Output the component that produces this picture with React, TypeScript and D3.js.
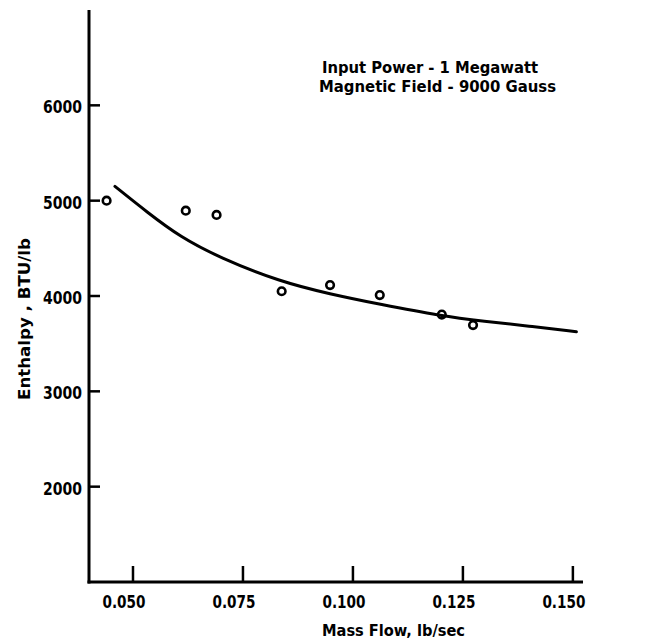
import React, { useRef, useEffect } from 'react';
import * as d3 from 'd3';

// measured points (open circles)
const pointFlow = [0.044, 0.062, 0.069, 0.0838, 0.0948, 0.1061, 0.1202, 0.1273];
const pointEnthalpy = [5000, 4895, 4850, 4050, 4115, 4010, 3805, 3695];

// faired curve through the data
const curveFlow = [0.0459, 0.0532, 0.0607, 0.0698, 0.0834, 0.0948, 0.1061, 0.1202, 0.1298, 0.1399, 0.1508];
const curveEnthalpy = [5150, 4880, 4620, 4400, 4150, 4020, 3913, 3789, 3735, 3685, 3625];

const xTicks = [0.05, 0.075, 0.1, 0.125, 0.15];
const xTickLabels = ['0.050', '0.075', '0.100', '0.125', '0.150'];
const yTicks = [2000, 3000, 4000, 5000, 6000];
const yTickLabels = ['2000', '3000', '4000', '5000', '6000'];

const notes = ['Input Power - 1 Megawatt', 'Magnetic Field - 9000 Gauss'];

export default function App() {
    const svgRef = useRef<SVGSVGElement>(null);

    useEffect(() => {
        var width = 649,
            height = 643;
        var font = "'DejaVu Sans Condensed', 'Liberation Sans Narrow', 'DejaVu Sans', sans-serif";

        var x = d3.scaleLinear().domain([0.04, 0.1523]).range([89, 583]);
        var y = d3.scaleLinear().domain([1000, 7000]).range([582, 10]);

        var svg = d3.select(svgRef.current)
            .attr('width', width)
            .attr('height', height);
        svg.selectAll('*').remove();

        svg.append('rect').attr('width', width).attr('height', height).attr('fill', '#fff');

        // axes lines
        svg.append('line')
            .attr('x1', x.range()[0]).attr('x2', x.range()[0])
            .attr('y1', y.range()[1]).attr('y2', y.range()[0] + 1.5)
            .attr('stroke', '#000').attr('stroke-width', 3);
        svg.append('line')
            .attr('x1', x.range()[0] - 1.5).attr('x2', x.range()[1])
            .attr('y1', y.range()[0]).attr('y2', y.range()[0])
            .attr('stroke', '#000').attr('stroke-width', 3);

        // y ticks (point inward)
        var yg = svg.append('g');
        yg.selectAll('line')
            .data(yTicks)
            .enter().append('line')
            .attr('x1', x.range()[0]).attr('x2', x.range()[0] + 11)
            .attr('y1', d => y(d)).attr('y2', d => y(d))
            .attr('stroke', '#000').attr('stroke-width', 2.5);
        yg.selectAll('text')
            .data(yTicks)
            .enter().append('text')
            .attr('x', 82)
            .attr('y', d => y(d) + 8)
            .attr('text-anchor', 'end')
            .attr('font-family', font)
            .attr('font-weight', 'bold')
            .attr('font-size', 17)
            .attr('textLength', 39)
            .attr('lengthAdjust', 'spacingAndGlyphs')
            .text((d, i) => yTickLabels[i]);

        // x ticks (point up)
        var xg = svg.append('g');
        xg.selectAll('line')
            .data(xTicks)
            .enter().append('line')
            .attr('x1', d => x(d)).attr('x2', d => x(d))
            .attr('y1', y.range()[0]).attr('y2', y.range()[0] - 16)
            .attr('stroke', '#000').attr('stroke-width', 2.5);
        xg.selectAll('text')
            .data(xTicks)
            .enter().append('text')
            .attr('x', d => x(d) - 9)
            .attr('y', 608)
            .attr('text-anchor', 'middle')
            .attr('font-family', font)
            .attr('font-weight', 'bold')
            .attr('font-size', 17)
            .attr('textLength', 43)
            .attr('lengthAdjust', 'spacingAndGlyphs')
            .text((d, i) => xTickLabels[i]);

        // axis titles
        svg.append('text')
            .attr('x', 393.5).attr('y', 636)
            .attr('text-anchor', 'middle')
            .attr('font-family', font)
            .attr('font-weight', 'bold')
            .attr('font-size', 16)
            .attr('textLength', 143)
            .attr('lengthAdjust', 'spacingAndGlyphs')
            .text('Mass Flow, lb/sec');

        svg.append('text')
            .attr('transform', 'translate(30,319) rotate(-90)')
            .attr('text-anchor', 'middle')
            .attr('font-family', font)
            .attr('font-weight', 'bold')
            .attr('font-size', 16)
            .attr('textLength', 162)
            .attr('lengthAdjust', 'spacingAndGlyphs')
            .text('Enthalpy , BTU/lb');

        // annotation
        svg.append('text')
            .attr('x', 322).attr('y', 73)
            .attr('font-family', font)
            .attr('font-weight', 'bold')
            .attr('font-size', 16)
            .attr('textLength', 216)
            .attr('lengthAdjust', 'spacingAndGlyphs')
            .text(notes[0]);
        svg.append('text')
            .attr('x', 319).attr('y', 92)
            .attr('font-family', font)
            .attr('font-weight', 'bold')
            .attr('font-size', 16)
            .attr('textLength', 237)
            .attr('lengthAdjust', 'spacingAndGlyphs')
            .text(notes[1]);

        // curve
        var line = d3.line<number>()
            .x(d => x(curveFlow[d]))
            .y(d => y(curveEnthalpy[d]))
            .curve(d3.curveBasis);
        svg.append('path')
            .attr('d', line(d3.range(curveFlow.length)))
            .attr('fill', 'none')
            .attr('stroke', '#000')
            .attr('stroke-width', 3)
            .attr('stroke-linecap', 'round');

        // points
        svg.append('g').selectAll('circle')
            .data(d3.range(pointFlow.length))
            .enter().append('circle')
            .attr('cx', d => x(pointFlow[d]))
            .attr('cy', d => y(pointEnthalpy[d]))
            .attr('r', 3.8)
            .attr('fill', 'none')
            .attr('stroke', '#000')
            .attr('stroke-width', 2.6);
    }, []);

    return (
        <svg ref={svgRef} style={{ position: 'absolute', left: 0, top: 0 }}></svg>
    );
}
